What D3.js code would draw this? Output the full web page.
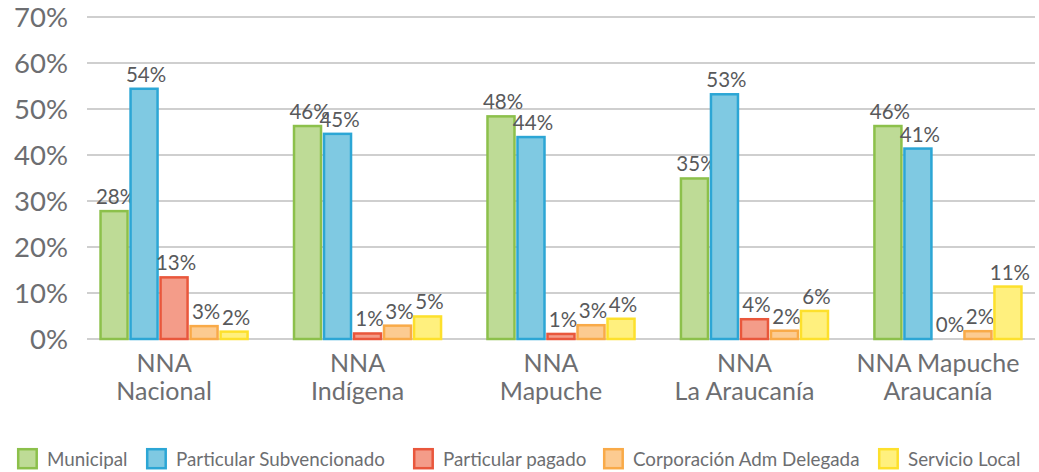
<!DOCTYPE html>
<html><head><meta charset="utf-8">
<script src="https://cdn.jsdelivr.net/npm/d3@7"></script>
<style>body{margin:0;background:#fff;} svg{display:block;font-family:Lato,"Open Sans",sans-serif;}</style>
</head><body>
<svg id="c" width="1039" height="472"></svg>
<script>
const categories = ["NNA Nacional","NNA Indígena","NNA Mapuche","NNA La Araucanía","NNA Mapuche Araucanía"];
const categoryLines = [["NNA","Nacional"],["NNA","Indígena"],["NNA","Mapuche"],["NNA","La Araucanía"],["NNA Mapuche","Araucanía"]];
const series = ["Municipal","Particular Subvencionado","Particular pagado","Corporación Adm Delegada","Servicio Local"];
const municipal   = [27.8, 46.3, 48.4, 34.9, 46.3];
const subvencionado = [54.4, 44.6, 43.9, 53.2, 41.4];
const pagado      = [13.4, 1.2, 1.1, 4.3, 0];
const corporacion = [2.8, 2.9, 3.0, 1.8, 1.7];
const servicio    = [1.6, 4.9, 4.4, 6.1, 11.4];
const labels = [
  ["28%","54%","13%","3%","2%"],
  ["46%","45%","1%","3%","5%"],
  ["48%","44%","1%","3%","4%"],
  ["35%","53%","4%","2%","6%"],
  ["46%","41%","0%","2%","11%"]
];
const yTicks = [0,10,20,30,40,50,60,70];
const fills = ["#bedb96","#7fc9e2","#f49c89","#fccb91","#fff07e"];
const strokes = ["#8cc04b","#2ca6d5","#e9573c","#f9aa48","#fde02c"];

const allSeries = [municipal, subvencionado, pagado, corporacion, servicio];
const svg = d3.select("#c");
const y = d3.scaleLinear().domain([0,70]).range([339,17]);
const x = d3.scaleBand().domain(categories).range([87,1035]).paddingInner(0.24).paddingOuter(0.07);
const x1 = d3.scaleBand().domain(series).range([0,x.bandwidth()]).paddingInner(0.1);

// gridlines
svg.append("g").selectAll("line").data(yTicks).join("line")
  .attr("x1",87).attr("x2",1035).attr("y1",d=>y(d)).attr("y2",d=>y(d))
  .attr("stroke","#cfcfcf").attr("stroke-width",2.2);
// y tick labels
svg.append("g").selectAll("text").data(yTicks).join("text")
  .attr("x",68).attr("y",d=>y(d)+10).attr("text-anchor","end")
  .attr("font-size",27.5).attr("fill","#6d6e71").text(d=>d+"%");

// bars
const groups = svg.append("g").selectAll("g").data(categories).join("g")
  .attr("transform",d=>`translate(${x(d)},0)`);
groups.each(function(cat,ci){
  const g = d3.select(this);
  series.forEach((s,si)=>{
    const v = allSeries[si][ci];
    if (v>0) {
      g.append("rect").attr("x",x1(s)).attr("y",y(v)).attr("width",x1.bandwidth())
        .attr("height",y(0)-y(v)).attr("fill",fills[si]).attr("stroke",strokes[si]).attr("stroke-width",2.5);
    }
    g.append("text").attr("x",x1(s)+x1.bandwidth()/2+2).attr("y",y(v)-7)
      .attr("text-anchor","middle").attr("font-size",20.5).attr("fill","#58595b")
      .text(labels[ci][si]);
  });
});

// category labels
const catG = svg.append("g");
categories.forEach((d,i)=>{
  const cx = x(d)+x.bandwidth()/2-10;
  categoryLines[i].forEach((ln,li)=>{
    catG.append("text").attr("x",cx).attr("y",372+li*28)
      .attr("text-anchor","middle").attr("font-size",25).attr("fill","#6d6e71").text(ln);
  });
});

// legend
const legX = [17,146,413,603,878];
const leg = svg.append("g").selectAll("g").data(series).join("g")
  .attr("transform",(d,i)=>`translate(${legX[i]},448)`);
leg.append("rect").attr("x",1.2).attr("y",1.2).attr("width",18.5).attr("height",19)
  .attr("fill",(d,i)=>fills[i]).attr("stroke",(d,i)=>strokes[i]).attr("stroke-width",2.5);
leg.append("text").attr("x",30).attr("y",18).attr("font-size",18.8).attr("fill","#6d6e71").text(d=>d);
</script>
</body></html>
